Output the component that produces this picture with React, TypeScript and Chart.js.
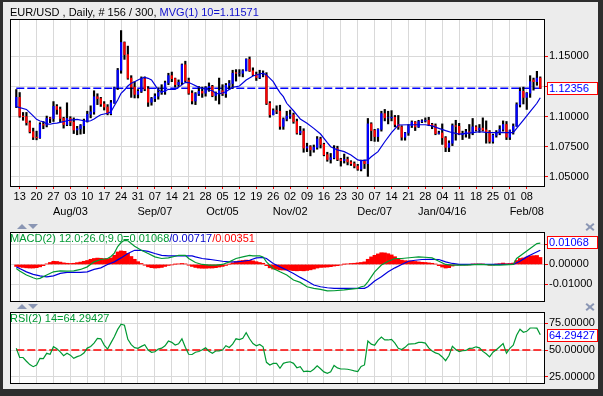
import React, { useEffect, useRef } from "react";
import Chart from "chart.js/auto";

const FONT = '"Liberation Sans", Arial, Helvetica, sans-serif';
const GRID = "#d9d9d9";
const BLUE = "#0000ff";
const RED = "#ff0000";
const GREEN = "#009933";
const LINE_BLUE = "#0000dd";

// x range in bar units (bar 0 = Fri Jul 10 2015, bar 155 = Fri Feb 12 2016)
const X_MIN = -1.86;
const X_MAX = 156.1;

// weekly ticks (Mondays)
const TICK_BARS = [1, 6, 11, 16, 21, 26, 31, 36, 41, 46, 51, 56, 61, 66, 71, 76, 81, 86, 91, 96, 101, 106, 111, 116, 121, 126, 131, 136, 141, 146, 151];
const DAY_LABELS = ["13", "20", "27", "03", "10", "17", "24", "31", "07", "14", "21", "28", "05", "12", "19", "26", "02", "09", "16", "23", "30", "07", "14", "21", "28", "04", "11", "18", "25", "01", "08"];
const MONTH_LABELS = ["", "", "", "Aug/03", "", "", "", "", "Sep/07", "", "", "", "Oct/05", "", "", "", "Nov/02", "", "", "", "", "Dec/07", "", "", "", "Jan/04/16", "", "", "", "", "Feb/08"];

const OPEN = [
  1.1085, 1.1160, 1.1005, 1.1000, 1.0950, 1.0875, 1.0830, 1.0825, 1.0935, 1.0930,
  1.0990, 1.0985, 1.1085, 1.1060, 1.0985, 1.0935, 1.0985, 1.0955, 1.0890, 1.0900,
  1.0925, 1.0965, 1.1020, 1.1040, 1.1165, 1.1150, 1.1105, 1.1080, 1.1025, 1.1115,
  1.1240, 1.1385, 1.1615, 1.1515, 1.1320, 1.1245, 1.1185, 1.1210, 1.1315, 1.1230,
  1.1120, 1.1150, 1.1170, 1.1200, 1.1205, 1.1280, 1.1340, 1.1315, 1.1265, 1.1285,
  1.1430, 1.1300, 1.1195, 1.1130, 1.1190, 1.1210, 1.1195, 1.1240, 1.1250, 1.1175,
  1.1195, 1.1215, 1.1190, 1.1260, 1.1275, 1.1365, 1.1360, 1.1360, 1.1380, 1.1475,
  1.1380, 1.1350, 1.1325, 1.1345, 1.1345, 1.1110, 1.1015, 1.1050, 1.1045, 1.0920,
  1.0980, 1.1005, 1.1015, 1.0960, 1.0865, 1.0880, 1.0740, 1.0750, 1.0725, 1.0745,
  1.0815, 1.0770, 1.0685, 1.0645, 1.0660, 1.0735, 1.0645, 1.0635, 1.0645, 1.0625,
  1.0610, 1.0590, 1.0565, 1.0630, 1.0610, 1.0940, 1.0885, 1.0835, 1.0895, 1.1025,
  1.0990, 1.0990, 1.0995, 1.0935, 1.0915, 1.0830, 1.0865, 1.0925, 1.0955, 1.0915,
  1.0960, 1.0965, 1.0970, 1.0935, 1.0925, 1.0860, 1.0865, 1.0825, 1.0745, 1.0780,
  1.0925, 1.0920, 1.0850, 1.0855, 1.0875, 1.0865, 1.0915, 1.0890, 1.0905, 1.0890,
  1.0875, 1.0795, 1.0845, 1.0870, 1.0895, 1.0935, 1.0830, 1.0885, 1.0920, 1.1100,
  1.1210, 1.1160, 1.1195, 1.1305, 1.1290, 1.1320,
];
const HIGH = [
  1.1225, 1.1200, 1.1035, 1.1035, 1.0965, 1.0905, 1.0880, 1.0950, 1.0960, 1.1005,
  1.0995, 1.1125, 1.1100, 1.1080, 1.0995, 1.1115, 1.1000, 1.0990, 1.0920, 1.0935,
  1.0980, 1.1045, 1.1090, 1.1215, 1.1190, 1.1160, 1.1125, 1.1100, 1.1135, 1.1245,
  1.1400, 1.1714, 1.1620, 1.1585, 1.1340, 1.1290, 1.1225, 1.1330, 1.1330, 1.1250,
  1.1160, 1.1190, 1.1240, 1.1265, 1.1295, 1.1360, 1.1370, 1.1320, 1.1305, 1.1437,
  1.1460, 1.1320, 1.1215, 1.1200, 1.1250, 1.1245, 1.1250, 1.1280, 1.1260, 1.1205,
  1.1320, 1.1265, 1.1275, 1.1300, 1.1385, 1.1390, 1.1390, 1.1390, 1.1480, 1.1495,
  1.1405, 1.1370, 1.1385, 1.1380, 1.1365, 1.1125, 1.1065, 1.1090, 1.1095, 1.0990,
  1.1045, 1.1055, 1.1030, 1.0980, 1.0920, 1.0900, 1.0780, 1.0760, 1.0765, 1.0835,
  1.0830, 1.0780, 1.0705, 1.0695, 1.0760, 1.0755, 1.0655, 1.0690, 1.0665, 1.0635,
  1.0625, 1.0605, 1.0640, 1.0640, 1.0985, 1.0950, 1.0895, 1.0900, 1.1045, 1.1060,
  1.1045, 1.1050, 1.1010, 1.1010, 1.0925, 1.0870, 1.0935, 1.0965, 1.0960, 1.0970,
  1.0975, 1.0990, 1.0995, 1.0945, 1.0940, 1.0880, 1.0940, 1.0835, 1.0800, 1.0940,
  1.0970, 1.0945, 1.0880, 1.0895, 1.0935, 1.0985, 1.0925, 1.0935, 1.0990, 1.0965,
  1.0885, 1.0855, 1.0885, 1.0925, 1.0965, 1.0960, 1.0890, 1.0940, 1.1115, 1.1240,
  1.1245, 1.1200, 1.1340, 1.1320, 1.1376, 1.1330,
];
const LOW = [
  1.1075, 1.0995, 1.0970, 1.0930, 1.0865, 1.0810, 1.0808, 1.0820, 1.0900, 1.0915,
  1.0950, 1.0960, 1.1020, 1.0955, 1.0905, 1.0925, 1.0925, 1.0860, 1.0850, 1.0855,
  1.0860, 1.0955, 1.0990, 1.1020, 1.1100, 1.1085, 1.1055, 1.1015, 1.1015, 1.1110,
  1.1225, 1.1360, 1.1475, 1.1310, 1.1160, 1.1155, 1.1155, 1.1200, 1.1215, 1.1085,
  1.1095, 1.1125, 1.1145, 1.1185, 1.1185, 1.1265, 1.1290, 1.1245, 1.1250, 1.1265,
  1.1290, 1.1185, 1.1105, 1.1100, 1.1175, 1.1160, 1.1170, 1.1210, 1.1165, 1.1135,
  1.1105, 1.1175, 1.1160, 1.1225, 1.1235, 1.1295, 1.1335, 1.1330, 1.1380, 1.1375,
  1.1340, 1.1300, 1.1315, 1.1330, 1.1100, 1.0995, 1.1015, 1.1025, 1.0895, 1.0895,
  1.0965, 1.0985, 1.0945, 1.0855, 1.0850, 1.0705, 1.0710, 1.0675, 1.0705, 1.0730,
  1.0740, 1.0675, 1.0630, 1.0615, 1.0650, 1.0635, 1.0590, 1.0615, 1.0600, 1.0595,
  1.0575, 1.0555, 1.0550, 1.0570, 1.0505, 1.0800, 1.0795, 1.0795, 1.0880, 1.0965,
  1.0940, 1.0965, 1.0915, 1.0895, 1.0805, 1.0805, 1.0845, 1.0910, 1.0885, 1.0910,
  1.0950, 1.0955, 1.0925, 1.0900, 1.0850, 1.0855, 1.0770, 1.0710, 1.0710, 1.0760,
  1.0805, 1.0850, 1.0810, 1.0830, 1.0820, 1.0850, 1.0880, 1.0870, 1.0880, 1.0780,
  1.0780, 1.0780, 1.0830, 1.0850, 1.0880, 1.0810, 1.0810, 1.0855, 1.0920, 1.1080,
  1.1105, 1.1060, 1.1160, 1.1220, 1.1260, 1.1235,
];
const CLOSE = [
  1.1160, 1.1005, 1.1000, 1.0950, 1.0875, 1.0830, 1.0825, 1.0935, 1.0930, 1.0985,
  1.0985, 1.1085, 1.1060, 1.0985, 1.0935, 1.0985, 1.0955, 1.0890, 1.0900, 1.0925,
  1.0965, 1.1020, 1.1040, 1.1165, 1.1150, 1.1105, 1.1080, 1.1025, 1.1115, 1.1240,
  1.1385, 1.1615, 1.1515, 1.1320, 1.1245, 1.1185, 1.1210, 1.1315, 1.1230, 1.1120,
  1.1150, 1.1170, 1.1200, 1.1205, 1.1280, 1.1340, 1.1315, 1.1265, 1.1285, 1.1430,
  1.1300, 1.1195, 1.1130, 1.1190, 1.1210, 1.1195, 1.1240, 1.1250, 1.1175, 1.1195,
  1.1215, 1.1190, 1.1260, 1.1275, 1.1360, 1.1360, 1.1360, 1.1380, 1.1475, 1.1380,
  1.1350, 1.1325, 1.1345, 1.1345, 1.1110, 1.1015, 1.1050, 1.1045, 1.0920, 1.0980,
  1.1005, 1.1015, 1.0960, 1.0865, 1.0880, 1.0740, 1.0750, 1.0725, 1.0745, 1.0815,
  1.0770, 1.0685, 1.0645, 1.0660, 1.0735, 1.0645, 1.0635, 1.0645, 1.0625, 1.0610,
  1.0590, 1.0565, 1.0630, 1.0610, 1.0940, 1.0885, 1.0835, 1.0895, 1.1025, 1.0990,
  1.0990, 1.0995, 1.0935, 1.0915, 1.0830, 1.0865, 1.0925, 1.0955, 1.0915, 1.0960,
  1.0965, 1.0970, 1.0935, 1.0925, 1.0860, 1.0865, 1.0825, 1.0745, 1.0780, 1.0925,
  1.0920, 1.0855, 1.0855, 1.0875, 1.0865, 1.0915, 1.0890, 1.0905, 1.0890, 1.0875,
  1.0795, 1.0845, 1.0870, 1.0895, 1.0935, 1.0830, 1.0885, 1.0920, 1.1100, 1.1210,
  1.1160, 1.1195, 1.1290, 1.1290, 1.1320, 1.12356,
];
const LAST_PRICE = 1.12356;

// 10-bar moving average, read at key bars
const MA_BARS = [0, 3, 4, 5, 6, 7, 8, 9, 10, 11, 12, 13, 15, 16, 18, 20, 21, 22, 23, 24, 25, 27, 28, 29, 30, 31, 32, 33, 34, 35, 37, 38, 39, 40, 41, 42, 43, 44, 45, 47, 48, 50, 51, 52, 54, 56, 58, 59, 60, 62, 64, 66, 68, 70, 72, 73, 74, 76, 77, 78, 79, 80, 82, 83, 84, 86, 88, 90, 92, 93, 95, 97, 99, 101, 102, 104, 105, 107, 109, 111, 113, 116, 121, 123, 125, 127, 129, 131, 133, 135, 137, 139, 141, 143, 145, 147, 148, 150, 152, 154, 155];
const MA_VALUES = [1.1083, 1.1060, 1.1033, 1.1006, 1.0978, 1.0964, 1.0958, 1.0940, 1.0937, 1.0945, 1.0947, 1.0953, 1.0966, 1.0972, 1.0978, 1.0966, 1.0961, 1.0966, 1.0981, 1.1000, 1.1016, 1.1028, 1.1041, 1.1090, 1.1138, 1.1194, 1.1221, 1.1254, 1.1277, 1.1290, 1.1318, 1.1326, 1.1318, 1.1304, 1.1263, 1.1221, 1.1207, 1.1213, 1.1227, 1.1227, 1.1243, 1.1285, 1.1283, 1.1271, 1.1243, 1.1227, 1.1215, 1.1194, 1.1188, 1.1207, 1.1243, 1.1254, 1.1304, 1.1337, 1.1354, 1.1360, 1.1346, 1.1290, 1.1243, 1.1199, 1.1166, 1.1111, 1.1049, 1.1014, 1.0981, 1.0945, 1.0903, 1.0856, 1.0784, 1.0751, 1.0724, 1.0710, 1.0682, 1.0641, 1.0635, 1.0641, 1.0668, 1.0710, 1.0792, 1.0867, 1.0931, 1.0933, 1.0933, 1.0923, 1.0903, 1.0884, 1.0867, 1.0856, 1.0862, 1.0867, 1.0875, 1.0870, 1.0867, 1.0870, 1.0867, 1.0867, 1.0903, 1.0972, 1.1041, 1.1111, 1.11571];

// MACD (values in thousandths)
const MACD_BARS = [0, 1, 3, 5, 6, 7, 9, 11, 13, 15, 17, 19, 21, 23, 25, 27, 28, 29, 30, 31, 32, 33, 34, 35, 37, 39, 41, 43, 45, 47, 48, 50, 51, 53, 55, 57, 59, 61, 63, 65, 67, 69, 70, 72, 73, 74, 76, 78, 80, 82, 84, 86, 88, 90, 92, 94, 97, 101, 102, 103, 104, 105, 106, 108, 110, 112, 114, 117, 119, 122, 123, 125, 127, 129, 133, 137, 141, 143, 147, 148, 150, 152, 154, 155];
const MACD_VALUES = [-2.0, -3.3, -5.3, -6.7, -7.3, -7.0, -5.3, -3.7, -3.2, -3.3, -3.2, -2.5, -1.2, 1.3, 2.5, 3.0, 4.0, 5.7, 9.0, 11.0, 12.1, 11.9, 10.5, 9.2, 7.1, 5.5, 3.8, 3.0, 3.3, 4.1, 4.6, 4.6, 3.0, 1.0, 0.0, -0.3, -0.3, 0.0, 1.3, 3.0, 3.8, 4.6, 4.3, 4.3, 3.8, 1.3, -2.0, -3.7, -5.3, -7.8, -9.0, -11.2, -12.0, -12.5, -13.3, -13.2, -12.8, -12.0, -11.2, -10.8, -8.7, -6.2, -3.7, -0.3, 1.6, 3.0, 3.0, 3.5, 3.8, 3.5, 3.3, 1.6, 0.0, -0.3, -0.3, 0.0, -0.3, -0.3, 0.0, 3.0, 5.5, 8.0, 10.5, 10.68];
const SIGNAL_BARS = [0, 1, 3, 5, 7, 9, 11, 13, 15, 19, 21, 23, 25, 27, 29, 31, 33, 35, 37, 39, 41, 43, 45, 52, 53, 55, 57, 59, 61, 63, 65, 67, 69, 71, 73, 74, 76, 78, 80, 82, 84, 86, 88, 90, 92, 94, 103, 104, 106, 108, 110, 112, 114, 116, 118, 120, 122, 125, 127, 129, 131, 147, 149, 151, 153, 155];
const SIGNAL_VALUES = [-1.2, -2.0, -3.7, -5.0, -5.7, -6.2, -5.7, -4.5, -4.0, -4.0, -3.7, -2.5, -1.7, 0.0, 1.3, 3.3, 5.5, 7.1, 7.1, 6.6, 5.5, 4.6, 4.3, 4.3, 3.8, 3.0, 2.6, 2.1, 1.6, 1.3, 1.3, 1.6, 2.1, 3.3, 3.5, 3.0, 0.5, -1.2, -2.8, -4.5, -6.5, -8.3, -10.3, -11.2, -11.7, -12.0, -12.0, -11.2, -8.3, -6.2, -3.7, -1.7, 0.0, 1.6, 2.1, 2.5, 2.6, 2.5, 1.3, 0.5, 0.0, 0.0, 1.6, 3.8, 5.5, 7.17];
const HIST = [
  -1.0, -1.3, -1.5, -1.7, -1.8, -1.8, -1.6, -1.2, -0.6, 0.3,
  1.0, 1.6, 1.5, 1.2, 0.8, 0.6, 0.5, 0.6, 0.9, 1.2,
  1.6, 2.0, 2.6, 3.0, 3.2, 3.1, 2.9, 2.9, 3.3, 4.6,
  6.3, 6.8, 6.6, 5.6, 4.0, 2.6, 1.4, 0.5, -0.4, -1.2,
  -1.6, -1.8, -1.7, -1.5, -1.0, -0.5, -0.2, 0.1, 0.3, 0.5,
  0.3, -0.4, -1.0, -1.5, -1.8, -1.9, -1.9, -1.8, -1.8, -1.6,
  -1.3, -1.0, -0.5, 0.1, 0.8, 1.4, 1.8, 2.0, 2.2, 2.1,
  1.8, 1.4, 1.0, 0.6, -0.6, -1.7, -2.3, -2.4, -2.7, -2.8,
  -2.8, -2.9, -3.1, -3.2, -3.1, -3.2, -3.0, -2.7, -2.3, -1.8,
  -1.5, -1.4, -1.3, -1.1, -0.8, -0.6, -0.3, 0.1, 0.3, 0.5,
  0.6, 0.8, 1.0, 1.3, 2.6, 3.8, 4.6, 5.3, 5.9, 5.8,
  5.4, 4.8, 3.9, 3.0, 2.2, 1.9, 1.8, 1.7, 1.5, 1.3,
  1.1, 1.0, 0.8, 0.6, 0.2, -0.6, -1.3, -1.8, -1.6, -0.8,
  -0.3, -0.3, -0.3, -0.2, -0.2, 0.1, 0.1, 0.2, 0.1, 0.0,
  -0.4, -0.2, 0.1, 0.4, 0.7, 0.4, 0.5, 0.7, 2.0, 3.0,
  3.3, 3.7, 4.2, 4.4, 4.5, 3.51,
];

const RSI = [
  51.6, 43.0, 43.0, 39.5, 36.3, 34.4, 36.0, 42.2, 42.0, 46.9,
  46.0, 53.1, 51.3, 48.2, 44.7, 46.9, 45.2, 42.2, 43.8, 44.8,
  47.2, 51.8, 53.3, 56.5, 60.9, 60.5, 54.6, 50.9, 56.7, 62.5,
  69.3, 74.1, 73.2, 60.0, 55.0, 52.2, 51.6, 53.4, 55.0, 50.0,
  47.8, 48.4, 50.9, 51.7, 54.0, 58.4, 57.2, 54.7, 55.8, 60.5,
  52.5, 46.0, 45.8, 47.9, 48.6, 50.2, 52.0, 48.8, 47.0, 49.1,
  49.2, 50.0, 54.0, 52.4, 55.5, 60.5, 59.8, 61.0, 66.3, 60.5,
  56.0, 54.0, 55.2, 53.0, 38.5, 36.0, 37.5, 37.5, 32.9, 37.5,
  38.5, 39.0, 37.5, 33.4, 34.4, 29.7, 30.2, 29.7, 32.0, 35.2,
  32.5, 29.5, 28.2, 29.6, 35.5, 33.2, 32.2, 32.2, 32.0, 31.3,
  30.5, 29.8, 34.6, 36.0, 58.4, 55.5, 54.5, 59.0, 62.2, 59.4,
  59.4, 60.0, 56.5, 51.6, 50.5, 52.5, 55.5, 55.8, 56.0, 57.2,
  57.2, 56.5, 52.0, 49.0, 47.3, 46.3, 43.5, 40.0, 44.8, 53.5,
  50.5, 48.5, 49.3, 49.6, 51.6, 51.8, 53.0, 52.0, 48.7, 46.5,
  43.5, 48.0, 50.2, 53.1, 56.0, 47.0, 51.5, 54.5, 63.8, 69.5,
  66.6, 67.5, 70.6, 70.6, 70.5, 64.29427,
];

const PRICE_TICKS = [1.05, 1.075, 1.1, 1.125, 1.15];
const MACD_TICKS = [-10, 0, 10];
const RSI_TICKS = [25, 50, 75];

const framePlugin = {
  id: "frame",
  beforeDraw(chart: any) {
    const { ctx, chartArea: a } = chart;
    ctx.save();
    ctx.fillStyle = "#ffffff";
    ctx.fillRect(a.left, a.top, a.right - a.left, a.bottom - a.top);
    ctx.restore();
  },
  afterDraw(chart: any) {
    const { ctx, chartArea: a } = chart;
    ctx.save();
    ctx.strokeStyle = "#000000";
    ctx.lineWidth = 1;
    ctx.strokeRect(a.left + 0.5, a.top + 0.5, a.right - a.left, a.bottom - a.top);
    ctx.restore();
  },
};

function zeroPad(s: any) {
  s.paddingLeft = 0;
  s.paddingRight = 0;
  s.paddingTop = 0;
  s.paddingBottom = 0;
}

function xAxis(showLabels: boolean, height: number) {
  return {
    type: "linear",
    min: X_MIN,
    max: X_MAX,
    offset: false,
    afterBuildTicks: (s: any) => {
      s.ticks = TICK_BARS.map((v) => ({ value: v }));
    },
    afterFit: (s: any) => {
      s.height = height;
      zeroPad(s);
    },
    grid: { color: GRID, lineWidth: 1, offset: false, drawTicks: showLabels, tickLength: 3, tickColor: RED },
    border: { display: false },
    ticks: showLabels
      ? {
          display: true,
          autoSkip: false,
          maxRotation: 0,
          minRotation: 0,
          padding: 0,
          color: "#000",
          font: { family: FONT, size: 11, lineHeight: 15 / 11 },
          callback: (_v: any, i: number) => (MONTH_LABELS[i] ? [DAY_LABELS[i], MONTH_LABELS[i]] : DAY_LABELS[i]),
        }
      : { display: false },
  };
}

function yAxis(min: number, max: number, ticks: number[], fmt: (v: number) => string) {
  return {
    type: "linear",
    position: "right",
    min,
    max,
    afterBuildTicks: (s: any) => {
      s.ticks = ticks.map((v) => ({ value: v }));
    },
    afterFit: (s: any) => {
      s.width = 59;
      zeroPad(s);
    },
    grid: { color: GRID, lineWidth: 1, drawTicks: true, tickLength: 4, tickColor: RED },
    border: { display: false },
    ticks: { padding: 1, color: "#000", font: { family: FONT, size: 11 }, callback: (v: any) => fmt(Number(v)) },
  };
}

const baseOptions = (padding: any) => ({
  responsive: false,
  animation: false,
  events: [],
  layout: { padding },
  plugins: { legend: { display: false }, tooltip: { enabled: false } },
});

export default function App() {
  const mainRef = useRef<HTMLCanvasElement>(null);
  const macdRef = useRef<HTMLCanvasElement>(null);
  const rsiRef = useRef<HTMLCanvasElement>(null);

  useEffect(() => {
    Chart.defaults.font.family = FONT;
    Chart.defaults.font.size = 11;
    Chart.defaults.color = "#000";
    const charts: any[] = [];

    const wicks = LOW.map((l, i) => ({ x: i, y: [l, HIGH[i]] }));
    const bodies = OPEN.map((o, i) => ({ x: i, y: [o, CLOSE[i]] }));
    const bodyColors = OPEN.map((o, i) => (CLOSE[i] >= o ? BLUE : RED));
    const ma = MA_BARS.map((x, k) => ({ x, y: MA_VALUES[k] }));

    charts.push(
      new Chart(mainRef.current as any, {
        type: "bar",
        data: {
          datasets: [
            { type: "line", data: ma, borderColor: LINE_BLUE, borderWidth: 1.2, pointRadius: 0, tension: 0, order: 0 } as any,
            { type: "bar", data: bodies, backgroundColor: bodyColors, barThickness: 1.5, grouped: false, order: 1 } as any,
            { type: "bar", data: wicks, backgroundColor: "#000000", barThickness: 1.5, grouped: false, order: 2 } as any,
            {
              type: "line",
              data: [{ x: 0, y: LAST_PRICE }, { x: X_MAX, y: LAST_PRICE }],
              borderColor: BLUE,
              borderWidth: 1.5,
              borderDash: [8, 3],
              pointRadius: 0,
              order: 3,
            } as any,
          ],
        },
        options: {
          ...baseOptions({ left: 10, top: 19, right: 0, bottom: 0 }),
          scales: {
            x: xAxis(true, 36),
            y: yAxis(1.04251, 1.18098, PRICE_TICKS, (v) => (Math.abs(v - 1.125) < 1e-6 ? "" : v.toFixed(5))),
          },
        } as any,
        plugins: [framePlugin],
      })
    );

    charts.push(
      new Chart(macdRef.current as any, {
        type: "bar",
        data: {
          datasets: [
            { type: "line", data: MACD_BARS.map((x, k) => ({ x, y: MACD_VALUES[k] })), borderColor: GREEN, borderWidth: 1.2, pointRadius: 0, order: 0 } as any,
            { type: "line", data: SIGNAL_BARS.map((x, k) => ({ x, y: SIGNAL_VALUES[k] })), borderColor: LINE_BLUE, borderWidth: 1.2, pointRadius: 0, order: 1 } as any,
            { type: "bar", data: HIST.map((h, i) => ({ x: i, y: h })), backgroundColor: RED, barPercentage: 1, categoryPercentage: 1, order: 2 } as any,
          ],
        },
        options: {
          ...baseOptions({ left: 10, top: 10, right: 0, bottom: 7 }),
          scales: {
            x: xAxis(false, 0),
            y: yAxis(-18.35, 16.3, MACD_TICKS, (v) => (v === 10 ? "" : (v / 1000).toFixed(5))),
          },
        } as any,
        plugins: [framePlugin],
      })
    );

    charts.push(
      new Chart(rsiRef.current as any, {
        type: "line",
        data: {
          datasets: [
            { data: RSI.map((r, i) => ({ x: i, y: r })), borderColor: GREEN, borderWidth: 1.2, pointRadius: 0, order: 0 },
            { data: [{ x: 0, y: 50 }, { x: X_MAX, y: 50 }], borderColor: RED, borderWidth: 1.5, borderDash: [8, 3], pointRadius: 0, order: 1 },
          ],
        },
        options: {
          ...baseOptions({ left: 10, top: 4, right: 0, bottom: 13 }),
          scales: {
            x: xAxis(false, 0),
            y: yAxis(19.1, 85.6, RSI_TICKS, (v) => v.toFixed(5)),
          },
        } as any,
        plugins: [framePlugin],
      })
    );

    return () => charts.forEach((c) => c.destroy());
  }, []);

  const abs = (l: number, t: number, extra: any = {}) => ({ position: "absolute" as const, left: l, top: t, ...extra });
  const text: any = { fontFamily: FONT, fontSize: 11, lineHeight: "13px", whiteSpace: "pre", color: "#000" };
  const box = (t: number): any => ({
    position: "absolute",
    left: 547,
    top: t,
    width: 51,
    height: 13,
    boxSizing: "border-box",
    border: "1px solid #ff0000",
    background: "#ffffff",
    color: "#0000ff",
    fontFamily: FONT,
    fontSize: 11,
    lineHeight: "11px",
    paddingLeft: 1,
    whiteSpace: "pre",
  });
  const iconColor = "#8a96b4";
  const up = (l: number, t: number) => (
    <div style={abs(l, t, { width: 0, height: 0, borderLeft: "5px solid transparent", borderRight: "5px solid transparent", borderBottom: `5px solid ${iconColor}` })} />
  );
  const down = (l: number, t: number) => (
    <div style={abs(l, t, { width: 0, height: 0, borderLeft: "5px solid transparent", borderRight: "5px solid transparent", borderTop: `5px solid ${iconColor}` })} />
  );
  const cross = (l: number, t: number) => (
    <div style={abs(l, t, { width: 8, height: 7 })}>
      <div style={abs(-1, 2.5, { width: 10, height: 2, background: iconColor, transform: "rotate(40deg)" })} />
      <div style={abs(-1, 2.5, { width: 10, height: 2, background: iconColor, transform: "rotate(-40deg)" })} />
    </div>
  );

  return (
    <div style={abs(0, 0, { width: 603, height: 396, background: "#2e2e2e", overflow: "hidden" })}>
      <div style={abs(3, 2, { width: 595, height: 387, background: "#ececec" })} />
      <canvas ref={mainRef} width={603} height={222} style={abs(0, 0, { width: 603, height: 222 })} />
      <canvas ref={macdRef} width={603} height={86} style={abs(0, 222, { width: 603, height: 86 })} />
      <canvas ref={rsiRef} width={603} height={88} style={abs(0, 308, { width: 603, height: 88 })} />

      <div style={abs(10, 6, text)}>
        EUR/USD , Daily, # 156 / 300, <span style={{ color: "#1010cc" }}>MVG(1) 10=1.11571</span>
      </div>
      <div style={abs(10, 232, text)}>
        <span style={{ color: GREEN }}>MACD(2) 12.0;26.0;9.0=0.01068</span>
        <span style={{ color: "#0000cc" }}>/0.00717</span>
        <span style={{ color: RED }}>/0.00351</span>
      </div>
      <div style={abs(10, 312, text)}>
        <span style={{ color: GREEN }}>RSI(2) 14=64.29427</span>
      </div>

      <div style={box(82)}>1.12356</div>
      <div style={box(236)}>0.01068</div>
      <div style={box(329)}>64.29427</div>

      {up(17, 224)}
      {down(28, 224)}
      {cross(586, 223)}
      {up(17, 304)}
      {down(28, 304)}
      {cross(586, 303)}
    </div>
  );
}
